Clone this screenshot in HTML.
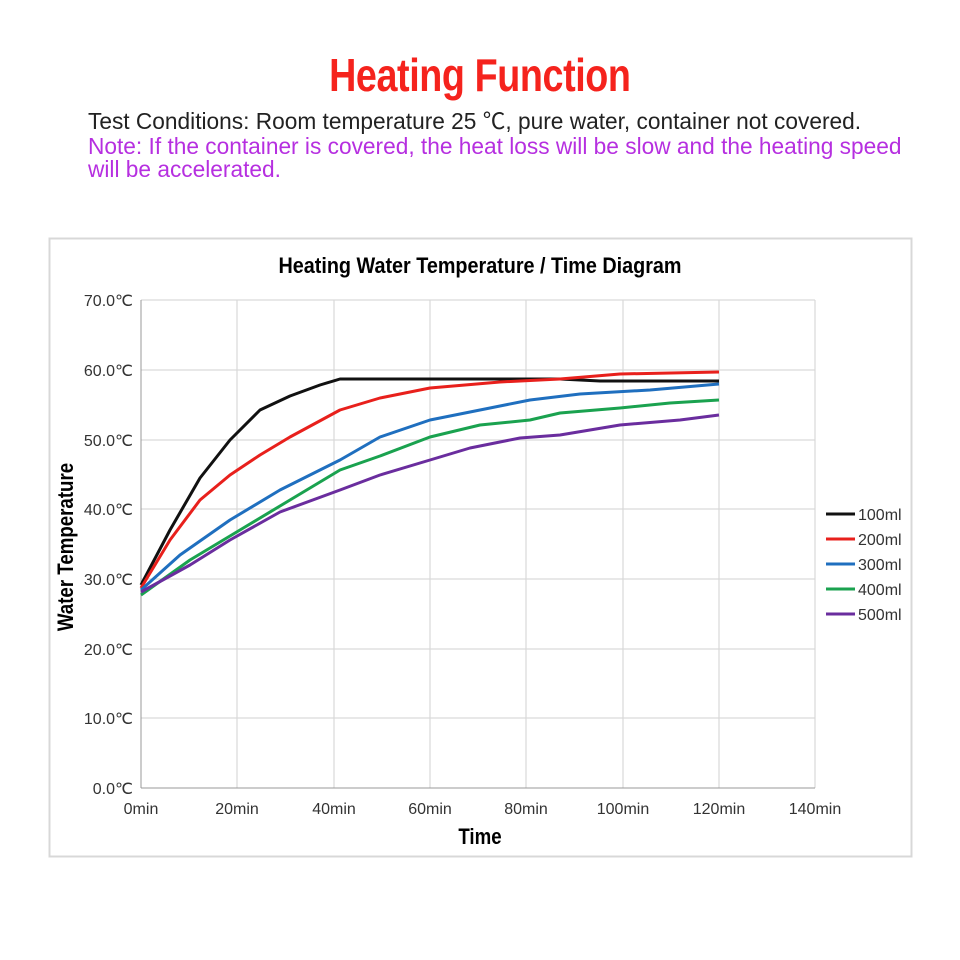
<!DOCTYPE html>
<html><head><meta charset="utf-8"><style>
body{margin:0;background:#fff;width:960px;height:960px;overflow:hidden;font-family:"Liberation Sans","Noto Sans CJK SC",sans-serif}
.t{position:absolute;white-space:nowrap}
</style></head><body>
<div class="t" style="left:0;width:960px;top:48px;text-align:center;"><span style="display:inline-block;color:#f5231d;font-weight:bold;font-size:46px;transform:scaleX(0.82);letter-spacing:-0.5px">Heating Function</span></div>
<div class="t" style="left:88px;top:103px;font-size:22.7px;color:#222">Test Conditions: Room temperature 25 ℃, pure water, container not covered.</div>
<div class="t" style="left:88px;top:135px;font-size:22.7px;color:#b62fe0;line-height:23px">Note: If the container is covered, the heat loss will be slow and the heating speed<br>will be accelerated.</div>
<svg width="960" height="960" style="position:absolute;left:0;top:0" font-family="Liberation Sans, sans-serif">
<rect x="49.5" y="238.5" width="862" height="618" fill="none" stroke="#d8d8d8" stroke-width="2"/>
<text x="480" y="273" text-anchor="middle" font-size="22" font-weight="bold" transform="translate(480 0) scale(0.9 1) translate(-480 0)">Heating Water Temperature / Time Diagram</text>
<g stroke="#d9d9d9" stroke-width="1.2">
<line x1="141" y1="300" x2="815" y2="300"/><line x1="141" y1="370" x2="815" y2="370"/><line x1="141" y1="440" x2="815" y2="440"/><line x1="141" y1="509" x2="815" y2="509"/><line x1="141" y1="579" x2="815" y2="579"/><line x1="141" y1="649" x2="815" y2="649"/><line x1="141" y1="718" x2="815" y2="718"/>
<line x1="237" y1="300" x2="237" y2="788"/><line x1="334" y1="300" x2="334" y2="788"/><line x1="430" y1="300" x2="430" y2="788"/><line x1="526" y1="300" x2="526" y2="788"/><line x1="623" y1="300" x2="623" y2="788"/><line x1="719" y1="300" x2="719" y2="788"/><line x1="815" y1="300" x2="815" y2="788"/>
</g>
<line x1="141" y1="300" x2="141" y2="788" stroke="#999"/><line x1="141" y1="788" x2="815" y2="788" stroke="#999"/>
<g font-size="16" fill="#333" text-anchor="end">
<text x="133" y="306">70.0℃</text><text x="133" y="376">60.0℃</text><text x="133" y="446">50.0℃</text><text x="133" y="515">40.0℃</text><text x="133" y="585">30.0℃</text><text x="133" y="655">20.0℃</text><text x="133" y="724">10.0℃</text><text x="133" y="794">0.0℃</text>
</g>
<g font-size="16" fill="#333" text-anchor="middle">
<text x="141" y="814">0min</text><text x="237" y="814">20min</text><text x="334" y="814">40min</text><text x="430" y="814">60min</text><text x="526" y="814">80min</text><text x="623" y="814">100min</text><text x="719" y="814">120min</text><text x="815" y="814">140min</text>
</g>
<text x="480" y="844" text-anchor="middle" font-size="22" font-weight="bold" transform="translate(480 0) scale(0.85 1) translate(-480 0)">Time</text>
<text transform="translate(73 547) rotate(-90) scale(0.85 1)" text-anchor="middle" font-size="22" font-weight="bold">Water Temperature</text>
<g fill="none" stroke-width="3" stroke-linejoin="round">
<polyline stroke="#111" points="141,585 170,530 200,478 230,440 260,410 290,396 320,385 340,379 500,379 560,379 600,381 719,381"/>
<polyline stroke="#e8201c" points="141,588 170,540 200,500 230,475 260,455 290,437 340,410 380,398 430,388 500,382 560,379 620,374 719,372"/>
<polyline stroke="#1f6fbf" points="141,590 180,555 230,520 280,490 340,460 380,437 430,420 480,410 530,400 580,394 650,390 719,384"/>
<polyline stroke="#1aa24f" points="141,595 190,560 240,530 290,500 340,470 380,456 430,437 480,425 530,420 560,413 620,408 670,403 719,400"/>
<polyline stroke="#6a2d9e" points="141,592 190,565 230,540 280,512 340,490 380,475 430,460 470,448 520,438 560,435 620,425 680,420 719,415"/>
</g>
<g stroke-width="3">
<line x1="826" y1="514" x2="855" y2="514" stroke="#111"/><line x1="826" y1="539" x2="855" y2="539" stroke="#e8201c"/><line x1="826" y1="564" x2="855" y2="564" stroke="#1f6fbf"/><line x1="826" y1="589" x2="855" y2="589" stroke="#1aa24f"/><line x1="826" y1="614" x2="855" y2="614" stroke="#6a2d9e"/>
</g>
<g font-size="16" fill="#333">
<text x="858" y="520">100ml</text><text x="858" y="545">200ml</text><text x="858" y="570">300ml</text><text x="858" y="595">400ml</text><text x="858" y="620">500ml</text>
</g>
</svg>
</body></html>
